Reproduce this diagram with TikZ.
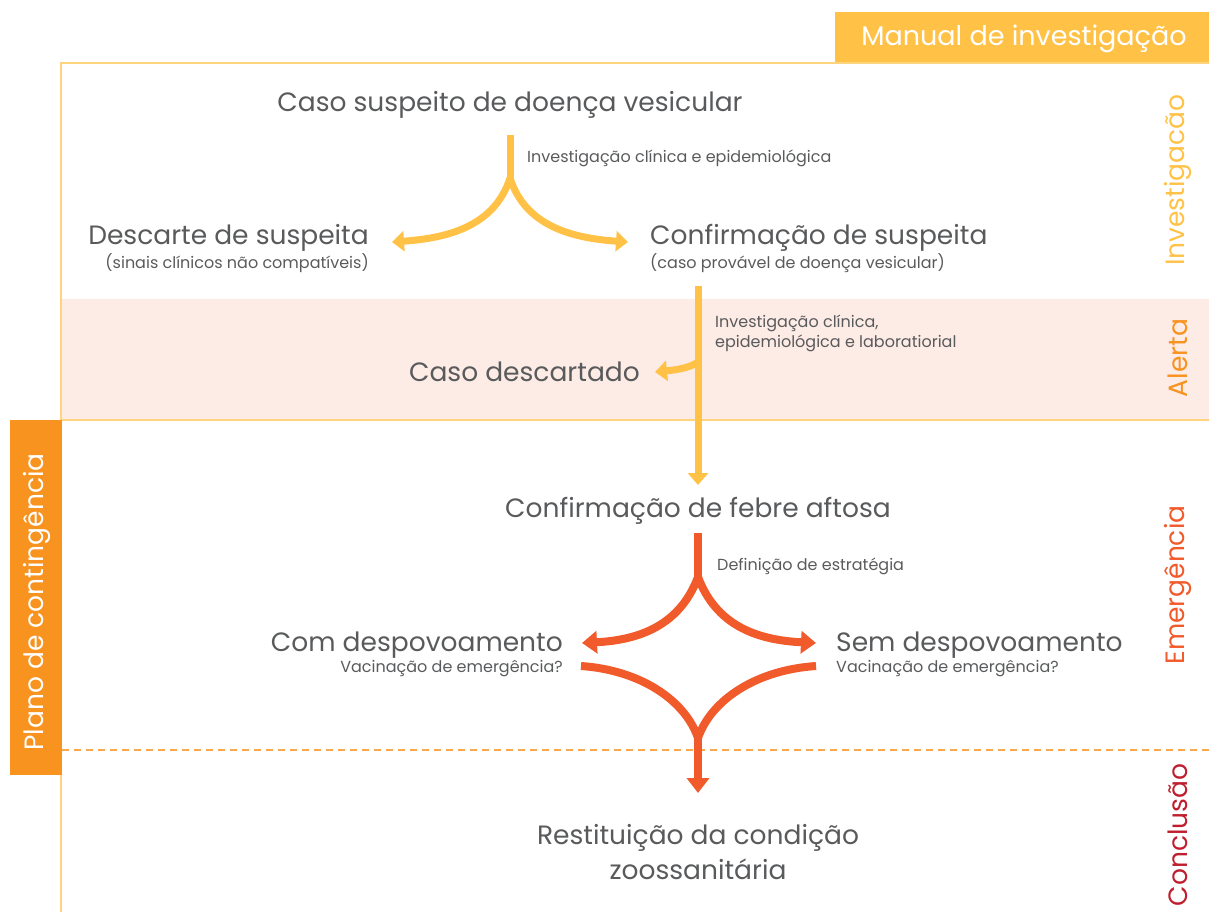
\documentclass[tikz,border=0pt]{standalone}
\usepackage{fontspec}
\setmainfont{Poppins}
\usetikzlibrary{arrows.meta}
\definecolor{ylw}{HTML}{FFC247}
\definecolor{frm}{HTML}{FFD47E}
\definecolor{pinkband}{HTML}{FDEBE5}
\definecolor{orng}{HTML}{F7931E}
\definecolor{redor}{HTML}{F15A2B}
\definecolor{darkred}{HTML}{BE1E2D}
\definecolor{txt}{HTML}{595A5C}
\begin{document}
\begin{tikzpicture}[x=1pt,y=-1pt,
  big/.style={inner sep=0pt,text=txt,yshift=-2pt,font=\fontsize{26.5}{35}\selectfont},
  small/.style={inner sep=0pt,text=txt,yshift=-1pt,font=\fontsize{16}{20}\selectfont},
  side/.style={inner sep=0pt,rotate=90,font=\fontsize{26.5}{30}\selectfont},
  yarrow/.style={draw=ylw,line width=7pt},
  rarrow/.style={draw=redor,line width=8pt},
  ytip/.style={-{Triangle[width=20pt,length=12pt]}},
  rtip/.style={-{Triangle[width=22pt,length=15pt]}}]
\useasboundingbox (0,0) rectangle (1209,912);
% band and frame
\fill[pinkband] (61,299) rectangle (1209,420);
\draw[frm,line width=1.5pt] (1209,63) -- (61,63) -- (61,912);
\draw[frm,line width=1.5pt] (61,420) -- (1209,420);
\draw[orng!80,line width=1.5pt,dash pattern=on 7pt off 5pt] (62,750) -- (1209,750);
% header box
\fill[ylw] (835,12) rectangle (1209,62);
\node[inner sep=0pt,text=white,font=\fontsize{27}{30}\selectfont] (manual) at (1024,39) {Manual de investigação};
% left box
\fill[orng] (10,420) rectangle (62,775);
\node[side,text=white] (plano) at (37,602) {Plano de contingência};
% side labels
\node[side,text=ylw] (sinv) at (1178,180) {Investigacão};
\node[side,text=orng] (salert) at (1178,358) {Alerta};
\node[side,text=redor] (semerg) at (1178,585) {Emergência};
\node[side,text=darkred] (sconc) at (1178,835) {Conclusão};
% texts
\node[big] (caso) at (510,103) {Caso suspeito de doença vesicular};
\node[small,anchor=west] (invl) at (527,157) {Investigação clínica e epidemiológica};
\node[big,anchor=east] (desc) at (369,236) {Descarte de suspeita};
\node[small,anchor=east] (descs) at (369,262) {(sinais clínicos não compatíveis)};
\node[big,anchor=west] (conf) at (650,236) {Confirmação de suspeita};
\node[small,anchor=west] (confs) at (650,262) {(caso provável de doença vesicular)};
\node[small,anchor=west,align=left] (inv2) at (715,332) {Investigação clínica,\\epidemiológica e laboratiorial};
\node[big,anchor=east] (descart) at (640,370) {Caso descartado};
\node[big] (febre) at (698,509) {Confirmação de febre aftosa};
\node[small,anchor=west] (defi) at (717,565) {Definição de estratégia};
\node[big,anchor=east] (com) at (563,643) {Com despovoamento};
\node[small,anchor=east] (coms) at (563,668) {Vacinação de emergência?};
\node[big,anchor=west] (sem) at (836,643) {Sem despovoamento};
\node[small,anchor=west] (sems) at (836,668) {Vacinação de emergência?};
\node[big,align=center] (rest) at (698,850) {Restituição da condição\\zoossanitária};
% coordinates
\coordinate (y0) at (510,135);
\coordinate (yj) at (510,178);
\coordinate (yl) at (392,242);
\coordinate (yr) at (628,242);
\coordinate (v0) at (698,286);
\coordinate (v1) at (698,485);
\coordinate (vb) at (698,362);
\coordinate (vl) at (655,372);
\coordinate (r0) at (698,533);
\coordinate (rj) at (698,577);
\coordinate (rl) at (582,643);
\coordinate (rr) at (816,643);
\coordinate (ll) at (581,666);
\coordinate (lr) at (816,666);
\coordinate (rm) at (698,738);
\coordinate (rb) at (698,793);
% yellow arrows
\draw[yarrow] (y0) -- (yj);
\draw[yarrow,ytip] (yj) .. controls (495,225) and (450,238) .. (yl);
\draw[yarrow,ytip] (yj) .. controls (525,225) and (570,238) .. (yr);
\draw[yarrow,ytip] (v0) -- (v1);
\draw[yarrow,ytip] (vb) .. controls (690,368) and (675,370) .. (vl);
% red arrows
\draw[rarrow] (r0) -- (rj);
\draw[rarrow,rtip] (rj) .. controls (680,625) and (640,640) .. (rl);
\draw[rarrow,rtip] (rj) .. controls (716,625) and (756,640) .. (rr);
\draw[rarrow] (ll) .. controls (640,670) and (685,700) .. (rm);
\draw[rarrow] (lr) .. controls (756,670) and (711,700) .. (rm);
\draw[rarrow,rtip] (rm) -- (rb);
\end{tikzpicture}
\end{document}
